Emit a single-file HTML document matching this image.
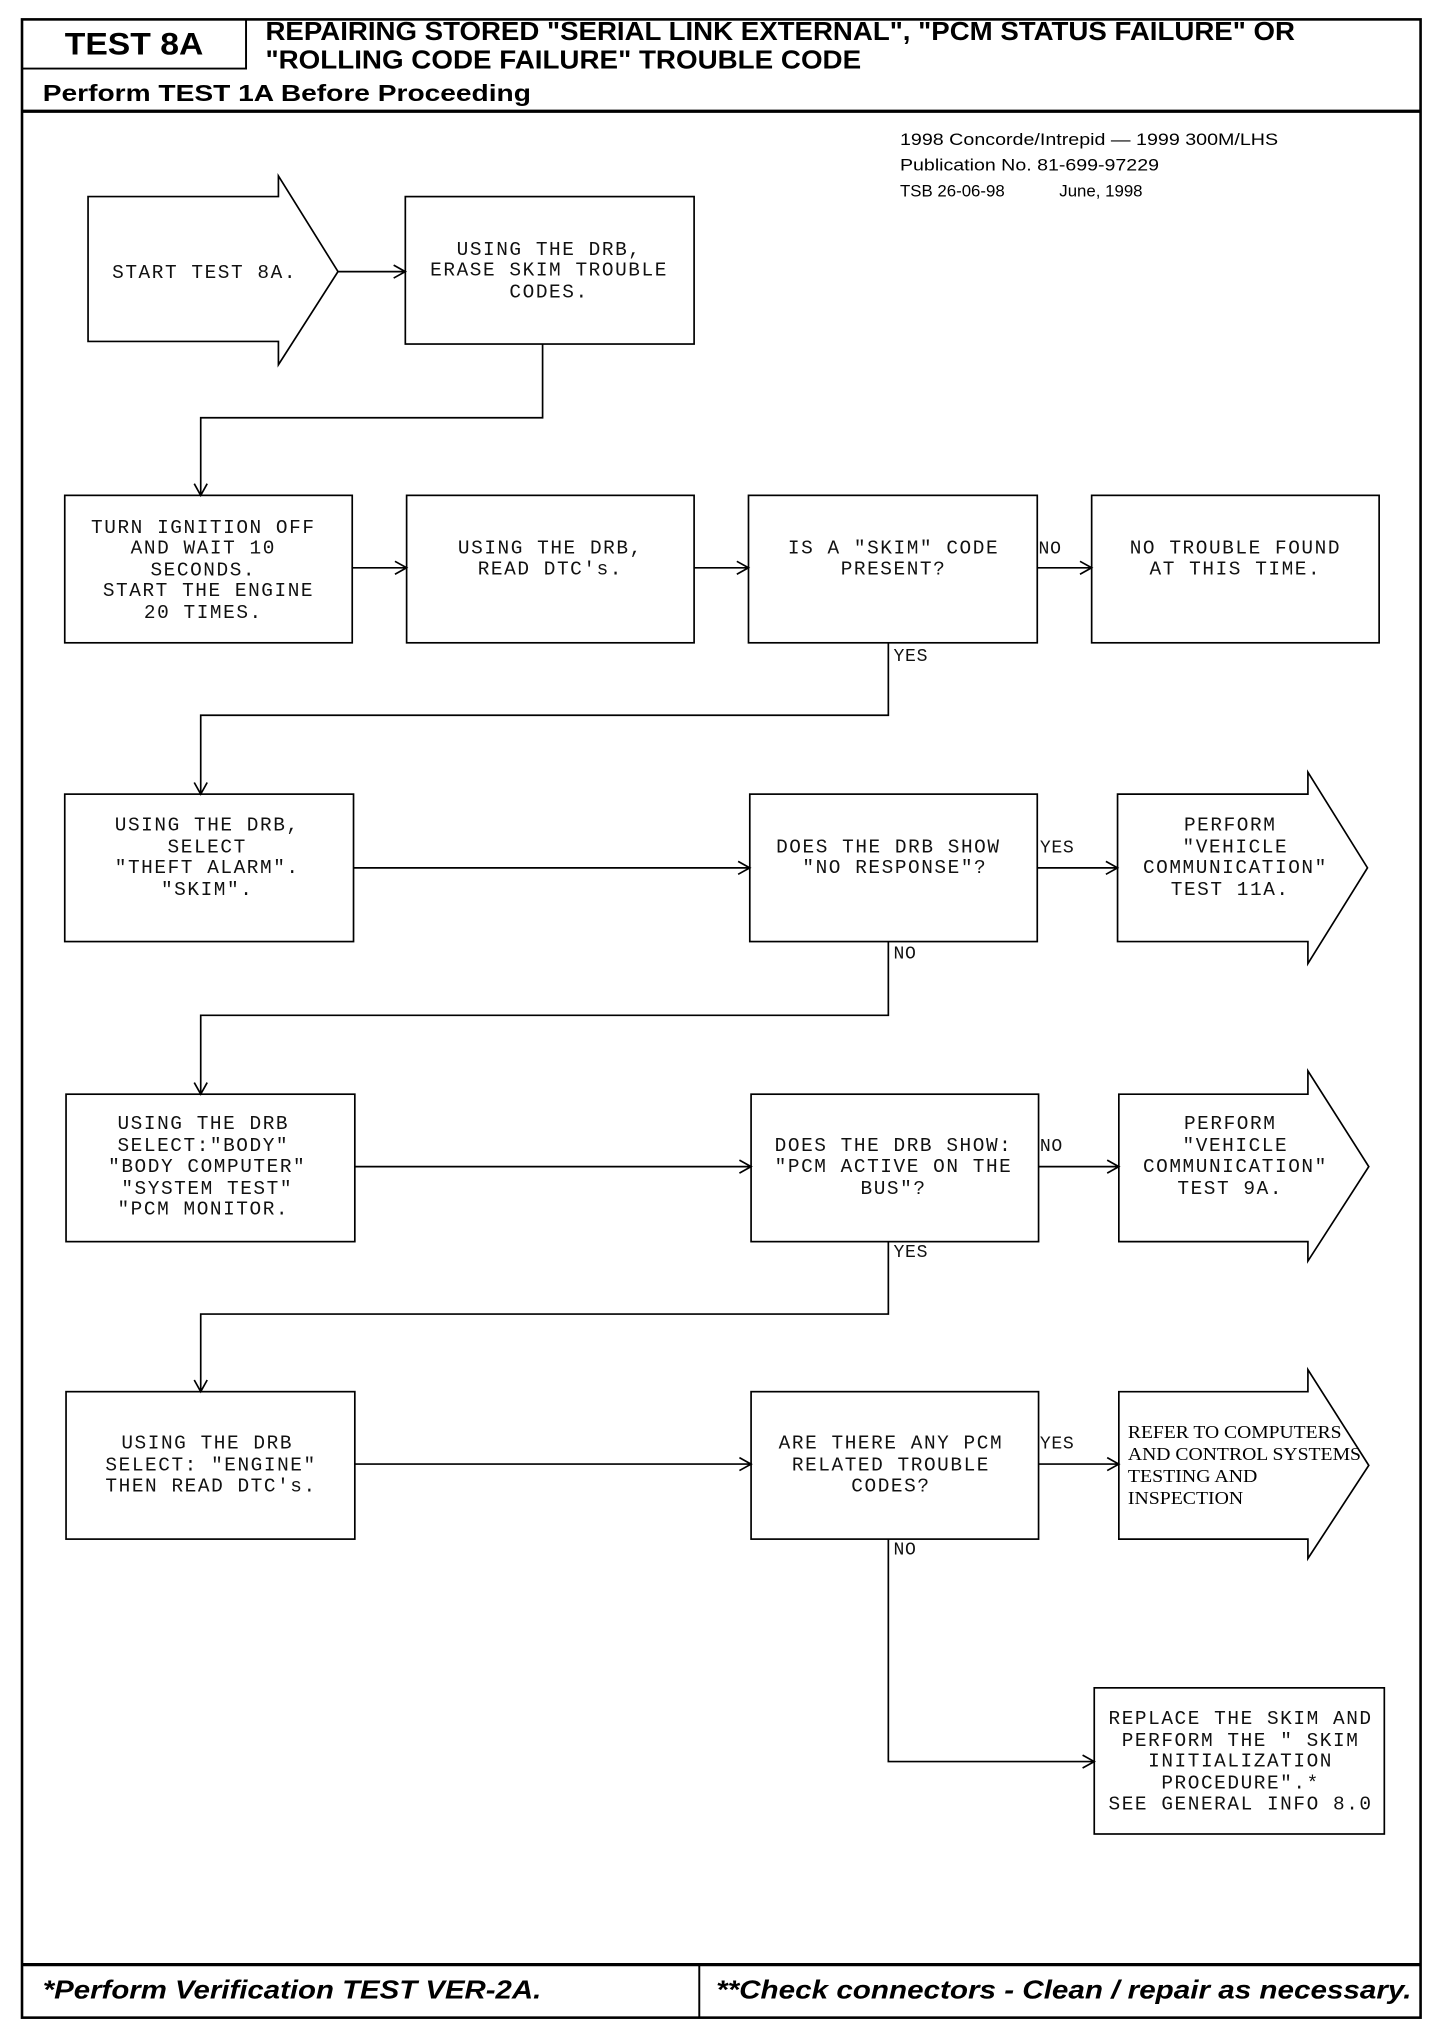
<!DOCTYPE html>
<html><head><meta charset="utf-8"><style>
html,body{margin:0;padding:0;background:#fff;}
svg{display:block;}
.m{font-family:"Liberation Mono",monospace;font-size:15px;letter-spacing:1.2px;fill:#111;}
.h{font-family:"Liberation Sans",sans-serif;font-weight:bold;fill:#000;}
.p{font-family:"Liberation Sans",sans-serif;font-size:13px;fill:#000;}
.s{font-family:"Liberation Serif",serif;font-size:14px;fill:#000;}
</style></head><body>
<svg width="1440" height="2028" viewBox="0 0 1112 1568" preserveAspectRatio="none" xmlns="http://www.w3.org/2000/svg">
<rect x="0" y="0" width="1112" height="1568" fill="#fff"/>
<g fill="none" stroke="#000">
<rect x="17" y="15" width="1080" height="1545" stroke-width="2"/>
<path d="M17 53 H190 V15" stroke-width="1.5"/>
<path d="M17 86 H1097" stroke-width="2.5"/>
<path d="M17 1519 H1097" stroke-width="2.5"/>
<path d="M540 1519 V1560" stroke-width="1.5"/>
</g>
<text class="h" x="50" y="42" font-size="24" textLength="107" lengthAdjust="spacingAndGlyphs">TEST 8A</text>
<text class="h" x="205" y="31" font-size="20" textLength="795" lengthAdjust="spacingAndGlyphs">REPAIRING STORED "SERIAL LINK EXTERNAL", "PCM STATUS FAILURE" OR</text>
<text class="h" x="205" y="53" font-size="20" textLength="460" lengthAdjust="spacingAndGlyphs">"ROLLING CODE FAILURE" TROUBLE CODE</text>
<text class="h" x="33" y="78" font-size="18" textLength="377" lengthAdjust="spacingAndGlyphs">Perform TEST 1A Before Proceeding</text>
<text class="h" x="33" y="1545" font-size="20" font-style="italic" textLength="385" lengthAdjust="spacingAndGlyphs">*Perform Verification TEST VER-2A.</text>
<text class="h" x="553" y="1545" font-size="20" font-style="italic" textLength="537" lengthAdjust="spacingAndGlyphs">**Check connectors - Clean / repair as necessary.</text>
<text class="p" x="695" y="112" textLength="292" lengthAdjust="spacingAndGlyphs">1998 Concorde/Intrepid — 1999 300M/LHS</text>
<text class="p" x="695" y="132" textLength="200" lengthAdjust="spacingAndGlyphs">Publication No. 81-699-97229</text>
<text class="p" x="695" y="152">TSB 26-06-98</text>
<text class="p" x="818" y="152">June, 1998</text>

<g fill="none" stroke="#000" stroke-width="1.3">
<polygon points="68,152 215,152 215,136 261,210 215,282 215,264 68,264"/>
<rect x="313" y="152" width="223" height="114"/>
<rect x="50" y="383" width="222" height="114"/>
<rect x="314" y="383" width="222" height="114"/>
<rect x="578" y="383" width="223" height="114"/>
<rect x="843" y="383" width="222" height="114"/>
<rect x="50" y="614" width="223" height="114"/>
<rect x="579" y="614" width="222" height="114"/>
<polygon points="863,614 1010,614 1010,597 1056,671 1010,745 1010,728 863,728"/>
<rect x="51" y="846" width="223" height="114"/>
<rect x="580" y="846" width="222" height="114"/>
<polygon points="864,846 1010,846 1010,828 1057,902 1010,975 1010,960 864,960"/>
<rect x="51" y="1076" width="223" height="114"/>
<rect x="580" y="1076" width="222" height="114"/>
<polygon points="864,1076 1010,1076 1010,1059 1057,1133 1010,1205 1010,1190 864,1190"/>
<rect x="845" y="1305" width="224" height="113"/>
<!-- connectors -->
<path d="M261 210 H313 M304 205 L313 210 L304 215"/>
<path d="M419 266 V323 H155 V383 M150 374 L155 383 L160 374"/>
<path d="M272 439 H314 M305 434 L314 439 L305 444"/>
<path d="M536 439 H578 M569 434 L578 439 L569 444"/>
<path d="M801 439 H843 M834 434 L843 439 L834 444"/>
<path d="M686 497 V553 H155 V614 M150 605 L155 614 L160 605"/>
<path d="M273 671 H579 M570 666 L579 671 L570 676"/>
<path d="M801 671 H863 M854 666 L863 671 L854 676"/>
<path d="M686 728 V785 H155 V846 M150 837 L155 846 L160 837"/>
<path d="M274 902 H580 M571 897 L580 902 L571 907"/>
<path d="M802 902 H864 M855 897 L864 902 L855 907"/>
<path d="M686 960 V1016 H155 V1076 M150 1067 L155 1076 L160 1067"/>
<path d="M274 1132 H580 M571 1127 L580 1132 L571 1137"/>
<path d="M802 1132 H864 M855 1127 L864 1132 L855 1137"/>
<path d="M686 1190 V1362 H845 M836 1357 L845 1362 L836 1367"/>
</g>

<g class="m" text-anchor="middle">
<text x="158" y="215">START TEST 8A.</text>
<text x="424" y="197">USING THE DRB,</text>
<text x="424" y="213">ERASE SKIM TROUBLE</text>
<text x="424" y="230">CODES.</text>
<text x="157" y="412">TURN IGNITION OFF</text>
<text x="157" y="428">AND WAIT 10</text>
<text x="157" y="445">SECONDS.</text>
<text x="161" y="461">START THE ENGINE</text>
<text x="157" y="478">20 TIMES.</text>
<text x="425" y="428">USING THE DRB,</text>
<text x="425" y="444">READ DTC's.</text>
<text x="690" y="428">IS A "SKIM" CODE</text>
<text x="690" y="444">PRESENT?</text>
<text x="954" y="428">NO TROUBLE FOUND</text>
<text x="954" y="444">AT THIS TIME.</text>
<text x="160" y="642">USING THE DRB,</text>
<text x="160" y="659">SELECT</text>
<text x="160" y="675">"THEFT ALARM".</text>
<text x="160" y="692">"SKIM".</text>
<text x="686" y="659">DOES THE DRB SHOW</text>
<text x="691" y="675">"NO RESPONSE"?</text>
<text x="950" y="642">PERFORM</text>
<text x="954" y="659">"VEHICLE</text>
<text x="954" y="675">COMMUNICATION"</text>
<text x="950" y="692">TEST 11A.</text>
<text x="157" y="873">USING THE DRB</text>
<text x="157" y="890">SELECT:"BODY"</text>
<text x="160" y="906">"BODY COMPUTER"</text>
<text x="160" y="923">"SYSTEM TEST"</text>
<text x="157" y="939">"PCM MONITOR.</text>
<text x="690" y="890">DOES THE DRB SHOW:</text>
<text x="690" y="906">"PCM ACTIVE ON THE</text>
<text x="690" y="923">BUS"?</text>
<text x="950" y="873">PERFORM</text>
<text x="954" y="890">"VEHICLE</text>
<text x="954" y="906">COMMUNICATION"</text>
<text x="950" y="923">TEST 9A.</text>
<text x="160" y="1120">USING THE DRB</text>
<text x="163" y="1137">SELECT: "ENGINE"</text>
<text x="163" y="1153">THEN READ DTC's.</text>
<text x="688" y="1120">ARE THERE ANY PCM</text>
<text x="688" y="1137">RELATED TROUBLE</text>
<text x="688" y="1153">CODES?</text>
<text x="958" y="1333">REPLACE THE SKIM AND</text>
<text x="958" y="1350">PERFORM THE " SKIM</text>
<text x="958" y="1366">INITIALIZATION</text>
<text x="958" y="1383">PROCEDURE".*</text>
<text x="958" y="1399">SEE GENERAL INFO 8.0</text>
</g>
<g class="m" style="font-size:14px;letter-spacing:0.5px">
<text x="802" y="428">NO</text>
<text x="690" y="511">YES</text>
<text x="803" y="659">YES</text>
<text x="690" y="741">NO</text>
<text x="803" y="890">NO</text>
<text x="690" y="972">YES</text>
<text x="803" y="1120">YES</text>
<text x="690" y="1202">NO</text>
</g>
<g class="s">
<text x="871" y="1112" textLength="165" lengthAdjust="spacingAndGlyphs">REFER TO COMPUTERS</text>
<text x="871" y="1129" textLength="180" lengthAdjust="spacingAndGlyphs">AND CONTROL SYSTEMS</text>
<text x="871" y="1146" textLength="100" lengthAdjust="spacingAndGlyphs">TESTING AND</text>
<text x="871" y="1163" textLength="89" lengthAdjust="spacingAndGlyphs">INSPECTION</text>
</g>
</svg>
</body></html>
